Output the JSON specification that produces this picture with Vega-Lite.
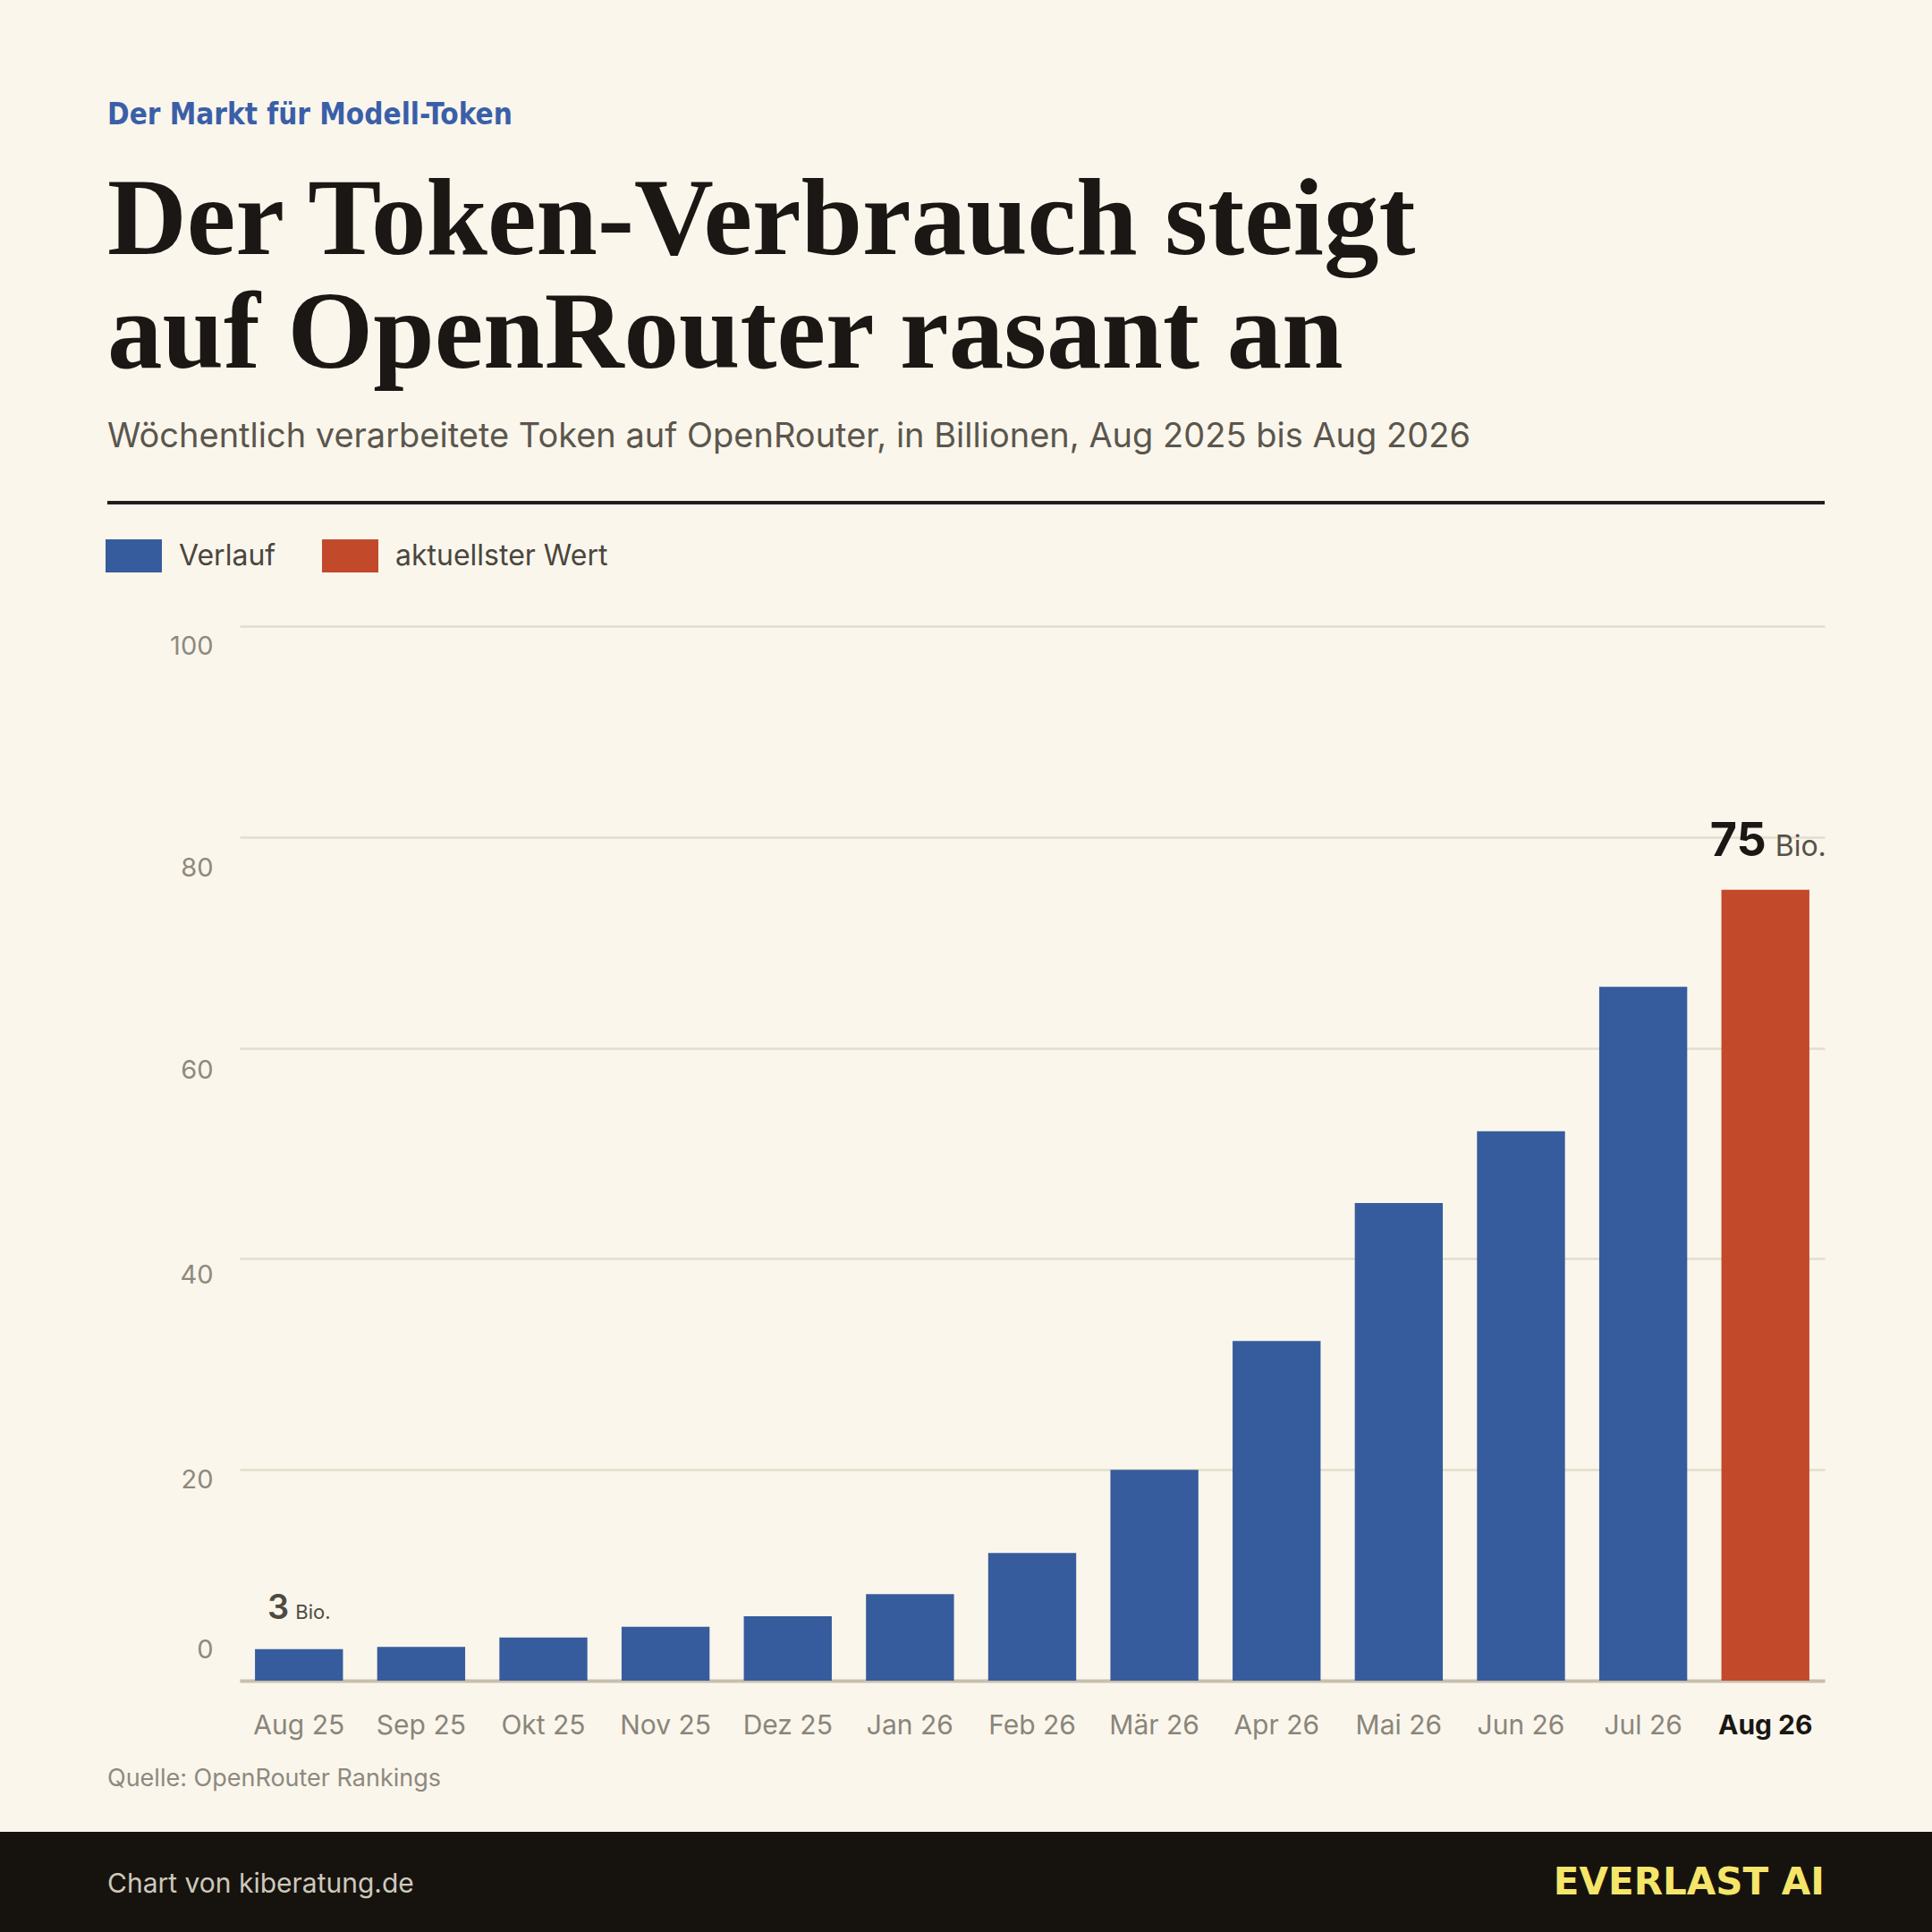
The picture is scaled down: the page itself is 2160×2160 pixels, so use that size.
{
  "$schema": "https://vega.github.io/schema/vega-lite/v6.json",
  "background": "#FAF6EC",
  "padding": 0,
  "autosize": {"type": "pad"},
  "columns": 3,
  "spacing": 0,
  "bounds": "flush",
  "align": "none",
  "config": {"view": {"stroke": null}, "font": "Inter"},
  "concat": [
    {"width": 120, "height": 560, "data": {"values": []}, "mark": "point",
     "title": {"text": "Der Markt für Modell-Token", "orient": "top", "anchor": "start", "frame": "group", "offset": -146, "dx": 120,
               "font": "Liberation Sans Narrow, DejaVu Sans Condensed, sans-serif", "fontSize": 33, "fontWeight": "bold", "color": "#3A5FA8"}},
    {"width": 148, "height": 560, "data": {"values": []}, "mark": "point",
     "title": {"text": ["Der Token-Verbrauch steigt", "auf OpenRouter rasant an"], "orient": "top", "anchor": "start", "frame": "group", "offset": -509, "dx": 0,
               "font": "Liberation Serif", "fontSize": 123, "fontWeight": "bold", "color": "#1A1714", "lineHeight": 127,
               "subtitle": "Wöchentlich verarbeitete Token auf OpenRouter, in Billionen, Aug 2025 bis Aug 2026",
               "subtitleFont": "Inter", "subtitleFontSize": 38, "subtitleFontWeight": "normal", "subtitleColor": "#5B564D", "subtitlePadding": 33}},
    {"width": 1772, "height": 560, "data": {"values": []}, "mark": "point"},

    {"width": 120, "height": 4, "data": {"values": []}, "mark": "point"},
    {"width": 148, "height": 4, "data": {"values": []}, "mark": "point", "view": {"fill": "#231F1B", "stroke": null}},
    {"width": 1772, "height": 4, "data": {"values": []}, "mark": "point", "view": {"fill": "#231F1B", "stroke": null}},

    {"width": 120, "height": 136, "data": {"values": []}, "mark": "point"},
    {"width": 148, "height": 136, "data": {"values": []}, "mark": "point"},
    {"width": 1772, "height": 136, "data": {"values": []}, "mark": "point"},

    {"width": 120, "height": 1179, "data": {"values": []}, "mark": "point"},
    {"width": 148, "height": 1179, "data": {"values": []}, "mark": "point"},
    {
      "width": 1772,
      "height": 1179,
      "data": {"values": [
        {"monat": "Aug 25", "wert": 3, "typ": "Verlauf"},
        {"monat": "Sep 25", "wert": 3.2, "typ": "Verlauf"},
        {"monat": "Okt 25", "wert": 4.1, "typ": "Verlauf"},
        {"monat": "Nov 25", "wert": 5.1, "typ": "Verlauf"},
        {"monat": "Dez 25", "wert": 6.1, "typ": "Verlauf"},
        {"monat": "Jan 26", "wert": 8.2, "typ": "Verlauf"},
        {"monat": "Feb 26", "wert": 12.1, "typ": "Verlauf"},
        {"monat": "Mär 26", "wert": 20, "typ": "Verlauf"},
        {"monat": "Apr 26", "wert": 32.2, "typ": "Verlauf"},
        {"monat": "Mai 26", "wert": 45.3, "typ": "Verlauf"},
        {"monat": "Jun 26", "wert": 52.1, "typ": "Verlauf"},
        {"monat": "Jul 26", "wert": 65.8, "typ": "Verlauf"},
        {"monat": "Aug 26", "wert": 75, "typ": "aktuellster Wert"}
      ]},
      "encoding": {
        "x": {"field": "monat", "type": "nominal", "sort": null,
              "scale": {"paddingInner": 0.28, "paddingOuter": 0.125},
              "axis": {"title": null, "labelAngle": 0, "ticks": false, "tickSize": 0, "grid": false,
                       "domain": true, "domainColor": "#C9BFAE", "domainWidth": 4,
                       "labelPadding": 35, "labelFont": "Inter", "labelFontSize": 30,
                       "labelColor": {"condition": {"test": "datum.value === 'Aug 26'", "value": "#1A1714"}, "value": "#8A857A"},
                       "labelFontWeight": {"condition": {"test": "datum.value === 'Aug 26'", "value": "bold"}, "value": "normal"}}},
        "y": {"field": "wert", "type": "quantitative",
              "scale": {"domain": [0, 100], "nice": false},
              "axis": {"title": null, "values": [0, 20, 40, 60, 80, 100], "domain": false, "ticks": false, "tickSize": 0,
                       "grid": true, "gridColor": "#E4DDCD", "gridWidth": 2.5,
                       "labelPadding": 30, "labelFont": "Inter", "labelFontSize": 29, "labelColor": "#8E897E",
                       "labelOffset": {"condition": [
                         {"test": "datum.value === 0", "value": -35},
                         {"test": "datum.value === 20", "value": 11},
                         {"test": "datum.value === 40", "value": 18},
                         {"test": "datum.value === 60", "value": 25},
                         {"test": "datum.value === 80", "value": 35}
                       ], "value": 22}}}
      },
      "layer": [
        {"mark": {"type": "bar"},
         "encoding": {"color": {"field": "typ", "type": "nominal",
                                "scale": {"domain": ["Verlauf", "aktuellster Wert"], "range": ["#375C9D", "#C24A2B"]},
                                "legend": {"orient": "none", "legendX": 118, "legendY": 590, "direction": "horizontal", "title": null,
                                           "symbolType": "M-1,-0.587H1V0.587H-1Z", "symbolSize": 3969, "symbolStrokeWidth": 0, "symbolOpacity": 1,
                                           "labelFont": "Inter", "labelFontSize": 32, "labelColor": "#4A463E", "labelOffset": 19, "labelLimit": 600,
                                           "columnPadding": 51, "padding": 0}}}},
        {"transform": [{"filter": "datum.monat === 'Aug 25'"}],
         "mark": {"type": "text", "align": "right", "baseline": "alphabetic", "dx": -11, "dy": -34, "font": "Inter", "fontSize": 38, "fontWeight": 600, "color": "#4E4A42"},
         "encoding": {"text": {"field": "wert", "type": "quantitative"}}},
        {"transform": [{"filter": "datum.monat === 'Aug 25'"}],
         "mark": {"type": "text", "text": "Bio.", "align": "left", "baseline": "alphabetic", "dx": -4, "dy": -34, "font": "Inter", "fontSize": 22, "color": "#4E4A42"}},
        {"transform": [{"filter": "datum.monat === 'Aug 26'"}],
         "mark": {"type": "text", "align": "right", "baseline": "alphabetic", "dx": 1, "dy": -38, "font": "Inter", "fontSize": 52, "fontWeight": "bold", "color": "#1A1714"},
         "encoding": {"text": {"field": "wert", "type": "quantitative"}}},
        {"transform": [{"filter": "datum.monat === 'Aug 26'"}],
         "mark": {"type": "text", "text": "Bio.", "align": "left", "baseline": "alphabetic", "dx": 11, "dy": -38, "font": "Inter", "fontSize": 32, "color": "#56524A"}}
      ]
    },

    {"width": 120, "height": 169, "data": {"values": []}, "mark": "point",
     "title": {"text": "Quelle: OpenRouter Rankings", "orient": "top", "anchor": "start", "frame": "group", "offset": -124, "dx": 120,
               "font": "Inter", "fontSize": 27, "fontWeight": "normal", "color": "#8E897E"}},
    {"width": 148, "height": 169, "data": {"values": []}, "mark": "point"},
    {"width": 1772, "height": 169, "data": {"values": []}, "mark": "point"},

    {"width": 120, "height": 111, "data": {"values": []}, "mark": "point", "view": {"fill": "#16130F", "stroke": null}},
    {"width": 148, "height": 111, "data": {"values": []}, "mark": "point", "view": {"fill": "#16130F", "stroke": null}},
    {"width": 1892, "height": 111, "data": {"values": []}, "mark": "point", "view": {"fill": "#16130F", "stroke": null},
     "title": {"text": "EVERLAST AI", "orient": "top", "anchor": "end", "frame": "group", "offset": -79, "dx": -120,
               "font": "DejaVu Sans", "fontSize": 42, "fontWeight": "bold", "color": "#F5E66A"}},

    {"width": 120, "height": 1, "data": {"values": []}, "mark": "point", "view": {"fill": "#16130F", "stroke": null},
     "title": {"text": "Chart von kiberatung.de", "orient": "top", "anchor": "start", "frame": "group", "offset": 37, "dx": 120,
               "font": "Inter", "fontSize": 30, "fontWeight": "normal", "color": "#CFC8BA"}},
    {"width": 148, "height": 1, "data": {"values": []}, "mark": "point", "view": {"fill": "#16130F", "stroke": null}},
    {"width": 1892, "height": 1, "data": {"values": []}, "mark": "point", "view": {"fill": "#16130F", "stroke": null}}
  ]
}
